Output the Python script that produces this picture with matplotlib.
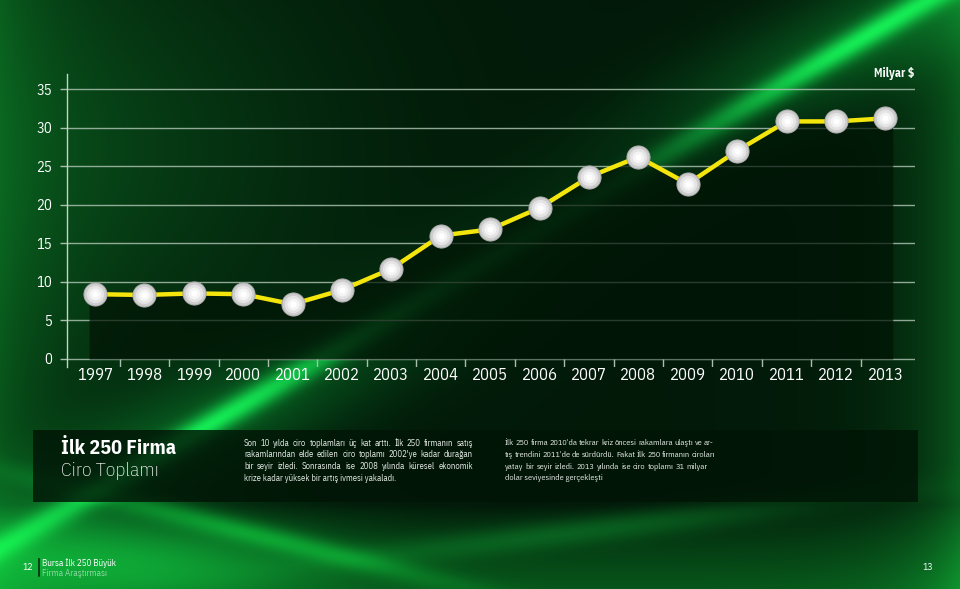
import numpy as np
import matplotlib
matplotlib.use("Agg")
import matplotlib.pyplot as plt
from matplotlib.patches import Rectangle

# ---------------- data ----------------
years = ["1997", "1998", "1999", "2000", "2001", "2002", "2003", "2004", "2005",
         "2006", "2007", "2008", "2009", "2010", "2011", "2012", "2013"]
ciro = [8.4, 8.3, 8.5, 8.4, 7.1, 8.95, 11.7, 16.0, 16.8, 19.6, 23.6, 26.2, 22.7,
        27.0, 30.8, 30.8, 31.2]
y_ticks = [0, 5, 10, 15, 20, 25, 30, 35]
unit_label = "Milyar $"
title_1 = "İlk 250 Firma"
title_2 = "Ciro Toplamı"
left_lines = ["Son 10 yılda ciro toplamları üç kat arttı. İlk 250 firmanın satış",
              "rakamlarından elde edilen ciro toplamı 2002'ye kadar durağan",
              "bir seyir izledi. Sonrasında ise 2008 yılında küresel ekonomik",
              "krize kadar yüksek bir artış ivmesi yakaladı."]
right_lines = ["İlk 250 firma 2010'da tekrar kriz öncesi rakamlara ulaştı ve ar-",
               "tış trendini 2011'de de sürdürdü. Fakat İlk 250 firmanın ciroları",
               "yatay bir seyir izledi. 2013 yılında ise ciro toplamı 31 milyar",
               "dolar seviyesinde gerçekleşti"]
footer_left_num = "12"
footer_right_num = "13"
footer_l1 = "Bursa İlk 250 Büyük"
footer_l2 = "Firma Araştırması"

COND = ["IBM Plex Sans Condensed", "DejaVu Sans"]
plt.rcParams["font.family"] = COND

W, H = 960, 589
fig = plt.figure(figsize=(W / 100, H / 100), dpi=100)

# ---------------- background ----------------
yy, xx = np.mgrid[0:H, 0:W].astype(float)
img = np.zeros((H, W, 3))
img[:] = np.array([0.008, 0.10, 0.035])


def add(mask, color):
    global img
    img += mask[..., None] * np.array(color)


add(np.exp(-xx / 70.0), [0.02, 0.20, 0.06])
add(np.exp(-(W - xx) / 50.0), [0.03, 0.25, 0.08])
add(np.clip((yy - 505) / 84.0, 0, 1) ** 0.8, [0.02, 0.24, 0.07])
add(np.exp(-(((xx - 80) / 260.0) ** 2 + ((yy - 150) / 220.0) ** 2)), [0.015, 0.12, 0.04])
k = 1.69
d = (xx - (875 - k * (yy - 30))) / np.sqrt(1 + k * k)
mod = 0.25 + 0.8 * (np.exp(-((yy - 40) / 90.0) ** 2) + np.exp(-((yy - 430) / 100.0) ** 2))
add(np.exp(-(d / 13.0) ** 2) * mod, [0.05, 0.55, 0.2])
add(np.exp(-(d / 60.0) ** 2) * mod, [0.015, 0.2, 0.07])
# bottom waves
add(np.exp(-(((xx - 140) / 170.0) ** 2 + ((yy - 560) / 45.0) ** 2)), [0.03, 0.33, 0.11])
d2 = (yy - (470 + 0.25 * xx)) / 12.0
add(np.exp(-d2 ** 2) * np.exp(-((xx - 250) / 200.0) ** 2), [0.02, 0.28, 0.08])
d3 = (yy - (600 - 0.12 * xx)) / 14.0
add(np.exp(-d3 ** 2) * np.exp(-((xx - 600) / 250.0) ** 2), [0.02, 0.18, 0.06])
img = np.clip(img, 0, 1)

bg = fig.add_axes([0, 0, 1, 1], zorder=-10)
bg.imshow(img, aspect="auto", extent=[0, W, H, 0], interpolation="bilinear")
bg.set_xlim(0, W)
bg.set_ylim(H, 0)
bg.axis("off")

# text panel
fig.patches.append(Rectangle((33 / W, 1 - 502 / H), (918 - 33) / W, 72 / H,
                             transform=fig.transFigure, facecolor="#011506",
                             alpha=0.82, edgecolor="none", zorder=-5))

# ---------------- chart ----------------
ax_l, ax_r = 67 / W, 915 / W
ax_b, ax_t = 1 - 366.7 / H, 1 - 73.6 / H
ax = fig.add_axes([ax_l, ax_b, ax_r - ax_l, ax_t - ax_b])
ax.patch.set_alpha(0)
x = np.arange(len(years))
ax.set_xlim(-0.567, 16.6)
ax.set_ylim(-1, 37)

grid_c = "#a9bfae"
for v in y_ticks:
    ax.axhline(v, color=grid_c, lw=1.0, alpha=0.85, zorder=1)

xs = np.r_[x[0] - 0.12, x, x[-1] + 0.15]
ys = np.r_[ciro[0], ciro, ciro[-1]]
ax.fill_between(xs, 0, ys, color="#011405", alpha=0.72, lw=0, zorder=2)

ax.plot(x, ciro, color="#f4e50c", lw=3.2, zorder=4, solid_joinstyle="miter")
ax.plot(x, ciro, "o", ms=17.5, mfc="#8a8a8a", mec="none", zorder=5, alpha=0.6)
ax.plot(x, ciro, "o", ms=16.5, mfc="#cdcdcd", mec="#b0b0b0", mew=0.6, zorder=6)
ax.plot(x, ciro, "o", ms=12.5, mfc="#e4e4e4", mec="none", zorder=7)
ax.plot(x, ciro, "o", ms=8.5, mfc="#f4f4f4", mec="none", zorder=8)
ax.plot(x, ciro, "o", ms=4.5, mfc="#ffffff", mec="none", zorder=9)

ax.vlines(x[:-1] + 0.5, -1, 0, color=grid_c, lw=1.0)

for s in ["top", "right", "bottom"]:
    ax.spines[s].set_visible(False)
ax.spines["left"].set_color("#c6d3c8")
ax.spines["left"].set_linewidth(1.0)

ax.set_yticks(y_ticks)
ax.set_yticklabels([str(v) for v in y_ticks], fontsize=10.5, color="white")
ax.tick_params(axis="y", length=5, width=1.0, color=grid_c, pad=6)
ax.set_xticks(x)
ax.set_xticklabels(years, fontsize=12, color="white")
ax.tick_params(axis="x", length=0, pad=0)

fig.text(914 / W, 1 - 74 / H, unit_label, ha="right", va="center", fontsize=8.5,
         color="white", fontweight="bold")

# ---------------- panel texts ----------------
fig.text(61 / W, 1 - 449 / H, title_1, ha="left", va="center", fontsize=14.5,
         color="white", fontweight="bold")
fig.text(61 / W, 1 - 471 / H, title_2, ha="left", va="center", fontsize=14,
         color="white", fontweight="light")

renderer = fig.canvas.get_renderer()


def justified(lines, x0, x1, y0, dy, fs):
    for li, line in enumerate(lines):
        yf = 1 - (y0 + li * dy) / H
        words = line.split(" ")
        if li == len(lines) - 1 or len(words) == 1:
            fig.text(x0 / W, yf, line, ha="left", va="center", fontsize=fs,
                     color="#e8ece8")
            continue
        arts = [fig.text(0, yf, w, ha="left", va="center", fontsize=fs,
                         color="#e8ece8") for w in words]
        widths = [a.get_window_extent(renderer).width for a in arts]
        gap = (x1 - x0 - sum(widths)) / (len(words) - 1)
        gap = max(gap, fs * 0.25)
        cx = x0
        for a, wd in zip(arts, widths):
            a.set_x(cx / W)
            cx += wd + gap


justified(left_lines, 244, 473, 443, 11.8, 6.2)
justified(right_lines, 505, 708, 443, 11.8, 5.95)

# ---------------- footer ----------------
fig.text(33 / W, 1 - 567 / H, footer_left_num, ha="right", va="center", fontsize=7,
         color="white")
fig.add_artist(plt.Line2D([39 / W, 39 / W], [1 - 559 / H, 1 - 576 / H],
                          transform=fig.transFigure, color="#0a2a10", lw=1.2))
fig.text(42 / W, 1 - 563 / H, footer_l1, ha="left", va="center", fontsize=6.5,
         color="white")
fig.text(42 / W, 1 - 573 / H, footer_l2, ha="left", va="center", fontsize=6.5,
         color="#8fd8a2")
fig.text(933 / W, 1 - 567 / H, footer_right_num, ha="right", va="center", fontsize=7,
         color="white")

fig.savefig("out.png", dpi=100)
